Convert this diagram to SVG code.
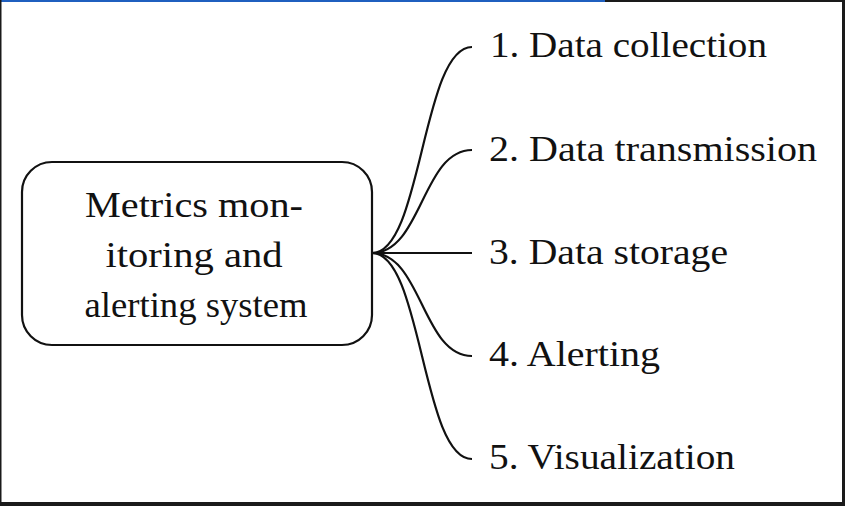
<svg xmlns="http://www.w3.org/2000/svg" width="845" height="506" viewBox="0 0 845 506">
<style>
text{font-family:"Liberation Serif","Times New Roman",serif;font-size:36px;fill:#111}
.c{fill:none;stroke:#111;stroke-width:2.2}
</style>
<rect x="0" y="0" width="845" height="506" fill="#fff"/>
<rect x="0" y="0" width="845" height="2" fill="#1a1a1a"/>
<rect x="0" y="0" width="605" height="2" fill="#1f5fbf"/>
<rect x="0" y="0" width="1.5" height="506" fill="#1a1a1a"/>
<rect x="842" y="0" width="3" height="506" fill="#1a1a1a"/>
<rect x="0" y="502" width="845" height="4" fill="#1a1a1a"/>
<g id="connectors">
<path class="c" d="M372,253 C422,253 422,47 472,47"/>
<path class="c" d="M372,253 C422,253 422,150 472,150"/>
<path class="c" d="M372,253 L472,253"/>
<path class="c" d="M372,253 C422,253 422,356 472,356"/>
<path class="c" d="M372,253 C422,253 422,459 472,459"/>
</g>
<g id="root">
<rect x="22" y="162" width="350" height="183" rx="30" fill="#fff" stroke="#111" stroke-width="2.2"/>
<text x="194" y="217" text-anchor="middle" textLength="218" lengthAdjust="spacingAndGlyphs">Metrics mon-</text>
<text x="194" y="267" text-anchor="middle" textLength="177" lengthAdjust="spacingAndGlyphs">itoring and</text>
<text x="196" y="317" text-anchor="middle" textLength="223" lengthAdjust="spacingAndGlyphs">alerting system</text>
</g>
<g id="n1"><text x="490" y="57" textLength="277" lengthAdjust="spacingAndGlyphs">1. Data collection</text></g>
<g id="n2"><text x="489" y="161" textLength="328" lengthAdjust="spacingAndGlyphs">2. Data transmission</text></g>
<g id="n3"><text x="489" y="264" textLength="239" lengthAdjust="spacingAndGlyphs">3. Data storage</text></g>
<g id="n4"><text x="489" y="366" textLength="171" lengthAdjust="spacingAndGlyphs">4. Alerting</text></g>
<g id="n5"><text x="489" y="469" textLength="246" lengthAdjust="spacingAndGlyphs">5. Visualization</text></g>
</svg>
